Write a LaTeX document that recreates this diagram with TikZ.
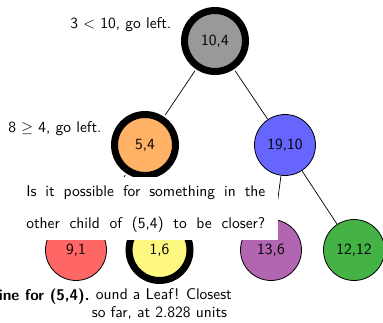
\documentclass[tikz,border=0pt]{standalone}
\begin{document}
% Coordinates are given in pt of the final page; the picture is drawn at
% 10pt and enlarged by 1.55, so the unit vectors are shrunk by the same factor.
\begin{tikzpicture}[x=0.645161pt,y=-0.645161pt,scale=1.55,transform shape,
  font=\sffamily\fontsize{10}{11.6}\selectfont,
  kd/.style={circle, draw=black, line width=0.8pt, minimum size=39.35pt, inner sep=0pt},
  visited/.style={line width=7pt},
  link/.style={draw=black, line width=0.7pt},
  note/.style={inner sep=0pt, anchor=base west},
]
\definecolor{leafgreen}{RGB}{68,178,68}
\useasboundingbox (0,0) rectangle (383,323);

% kd-tree
\node[kd, visited, fill=gray!80]   (r)  at (215,41)    {10,4};
\node[kd, visited, fill=orange!60] (a)  at (145,145)   {5,4};
\node[kd, fill=blue!60]            (b)  at (285,145)   {19,10};
\node[kd, fill=red!60]             (c)  at (76,250)    {9,1};
\node[kd, visited, fill=yellow!50] (d)  at (159.5,250) {1,6};
\node[kd, fill=violet!60]          (e)  at (271,250)   {13,6};
\node[kd, fill=leafgreen]          (f)  at (354,250)   {12,12};

\draw[link] (r) -- (a);
\draw[link] (r) -- (b);
\draw[link] (a) -- (c);
\draw[link] (a) -- (d);
\draw[link] (b) -- (e);
\draw[link] (b) -- (f);

% search notes
\node[note] (n1) at (70,29)  {3 $<$ 10, go left.};
\node[note] (n2) at (8,133)  {8 $\geq$ 4, go left.};

\node[fill=white, anchor=north west, inner xsep=8.39pt, inner ysep=0pt,
      minimum width=170.97pt, minimum height=40.65pt, align=center] (q) at (13,177)
  {\makebox[154.19pt][s]{Is it possible for something in the}\\[8.65pt]
   \makebox[154.19pt][s]{other child of (5,4) to be closer?}};

\node[note] (n3) at (-1.5,300) {\bfseries ine for (5,4).};
\node[inner sep=0pt, anchor=north, align=center] (n4) at (159.5,288.2)
  {\hphantom{F}ound a Leaf! Closest\\so far, at 2.828 units};
\end{tikzpicture}
\end{document}
